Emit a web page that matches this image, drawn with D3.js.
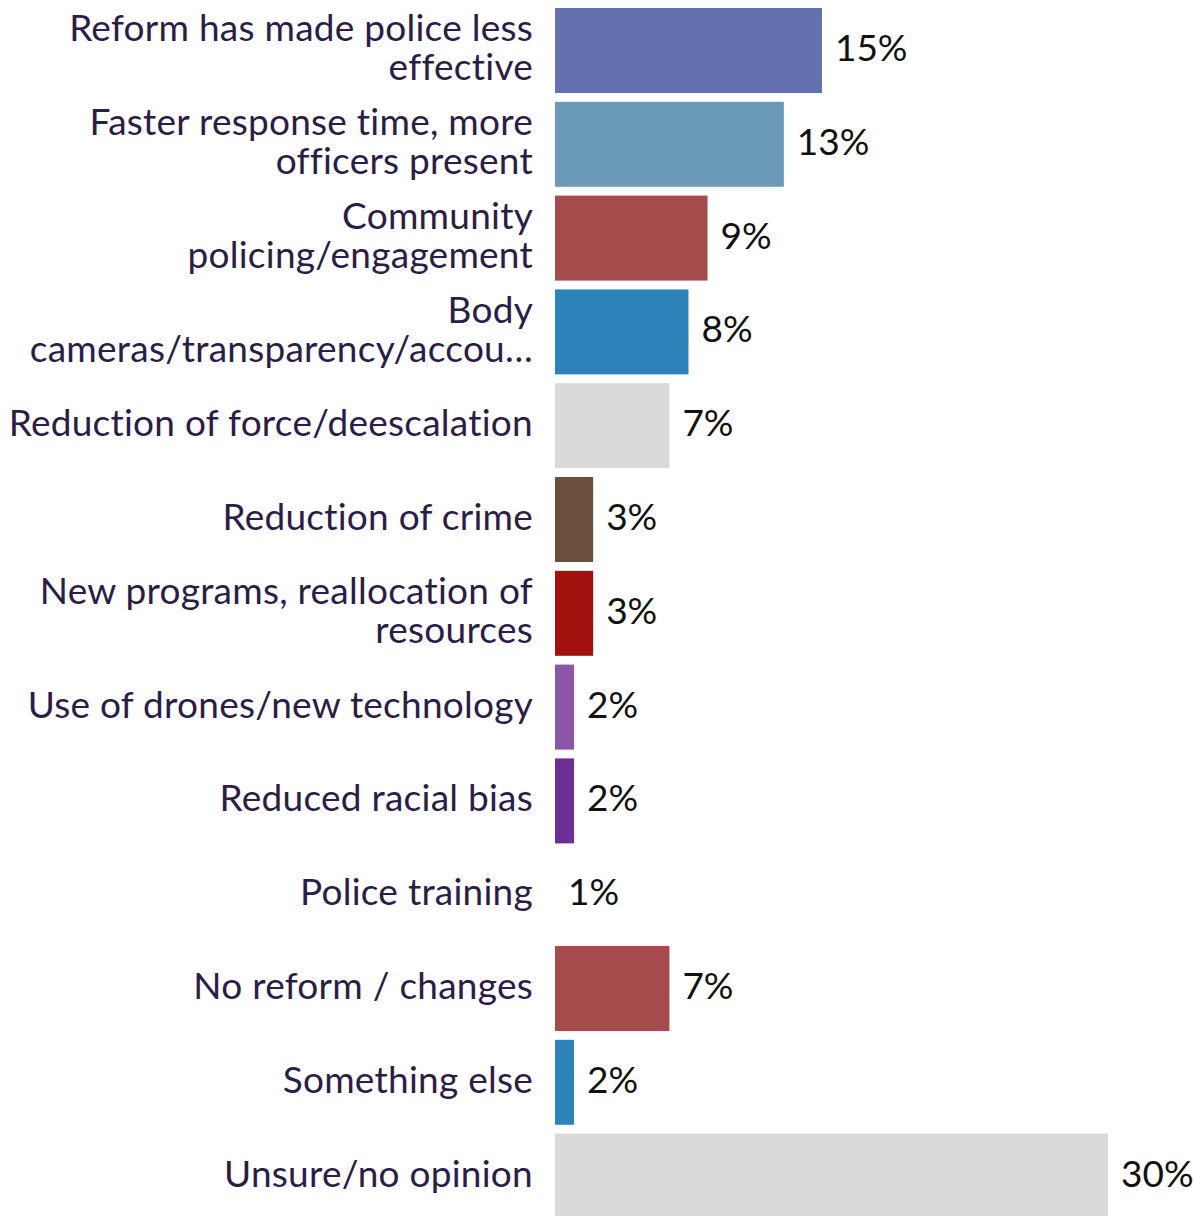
<!DOCTYPE html>
<html><head><meta charset="utf-8">
<script src="https://cdn.jsdelivr.net/npm/d3@7"></script>
<style>html,body{margin:0;padding:0;background:#fff;}svg{display:block;}</style>
</head><body>
<svg id="chart" width="1194" height="1216"></svg>
<script>
const categories = [
  ["Reform has made police less", "effective"],
  ["Faster response time, more", "officers present"],
  ["Community", "policing/engagement"],
  ["Body", "cameras/transparency/accou…"],
  ["Reduction of force/deescalation"],
  ["Reduction of crime"],
  ["New programs, reallocation of", "resources"],
  ["Use of drones/new technology"],
  ["Reduced racial bias"],
  ["Police training"],
  ["No reform / changes"],
  ["Something else"],
  ["Unsure/no opinion"]
];
const values = [15, 13, 9, 8, 7, 3, 3, 2, 2, 1, 7, 2, 30];
const colors = ["#6372ae", "#6a9ab8", "#a64b4b", "#2d83b9", "#dadada", "#6b4e3b", "#a3110f", "#8b55a8", "#6d2f96", "#6372ae", "#a64b4b", "#2d83b9", "#dadada"];

const svg = d3.select("#chart");
const keys = categories.map(c => c.join(" "));
const x = d3.scaleLinear().domain([1, 30]).range([555, 1108]);
const y = d3.scaleBand().domain(keys).range([8, 1218.6]).paddingInner(0.094).paddingOuter(0);
const font = "Lato, 'Open Sans', sans-serif";
const fs = 37;

svg.selectAll("rect.bar").data(values).join("rect")
  .attr("class", "bar")
  .attr("x", x.range()[0])
  .attr("y", (d, i) => y(keys[i]))
  .attr("width", d => Math.max(0, x(d) - x.range()[0]))
  .attr("height", y.bandwidth())
  .attr("fill", (d, i) => colors[i]);

const lineH = 39;
const lab = svg.selectAll("text.cat").data(categories).join("text")
  .attr("class", "cat")
  .attr("text-anchor", "end")
  .attr("font-family", font)
  .attr("font-size", fs)
  .attr("letter-spacing", 0.25)
  .attr("fill", "#2b1d48");
lab.each(function(lines, i) {
  const cy = y(keys[i]) + y.bandwidth() / 2;
  const first = cy + 10.5 - (lines.length - 1) * lineH / 2;
  d3.select(this).selectAll("tspan").data(lines).join("tspan")
    .attr("x", 533)
    .attr("y", (l, j) => first + j * lineH)
    .text(l => l);
});

svg.selectAll("text.val").data(values).join("text")
  .attr("class", "val")
  .attr("x", d => x(d) + 13)
  .attr("y", (d, i) => y(keys[i]) + y.bandwidth() / 2 + 10.5)
  .attr("font-family", font)
  .attr("font-size", fs)
  .attr("fill", "#111")
  .text(d => d + "%");
</script>
</body></html>
